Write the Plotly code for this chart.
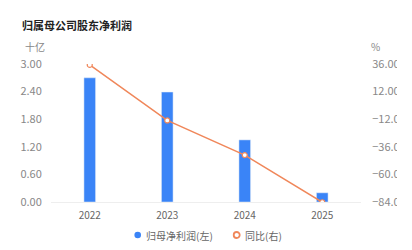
import plotly.graph_objects as go

years = ["2022", "2023", "2024", "2025"]
profit = [2.70, 2.39, 1.35, 0.20]
yoy = [35.2, -13.1, -43.2, -84.2]
left_ticks = [0, 0.6, 1.2, 1.8, 2.4, 3.0]
right_ticks = [-84, -60, -36, -12, 12, 36]
series_names = ["归母净利润(左)", "同比(右)"]

BLUE = "#3a84f7"
ORANGE = "#f0875a"
FONT = "Noto Sans CJK SC, Noto Sans, sans-serif"

W, H = 412, 250
ML, MR, MT, MB = 51, 51, 64, 48
pw = W - ML - MR
ph = H - MT - MB
def px(xp):
    return (xp - ML) / pw
def py(yp):
    return (H - MB - yp) / ph

fig = go.Figure()
fig.add_trace(go.Bar(
    x=years, y=profit, name=series_names[0], marker_color=BLUE,
    width=0.15, yaxis="y",
))
fig.add_trace(go.Scatter(
    x=years, y=yoy, name=series_names[1], mode="lines+markers", yaxis="y2",
    line=dict(color=ORANGE, width=1.5),
    marker=dict(symbol="circle", size=5, color="white", line=dict(color=ORANGE, width=1.2)),
))

# custom legend (symbol shapes + text annotations)
leg_y = py(235)
shapes = [
    dict(type="circle", xref="paper", yref="paper", xsizemode="pixel", ysizemode="pixel",
         xanchor=px(137.7), yanchor=leg_y, x0=-3.3, x1=3.3, y0=-3.3, y1=3.3,
         fillcolor=BLUE, line=dict(width=0), layer="above"),
    dict(type="circle", xref="paper", yref="paper", xsizemode="pixel", ysizemode="pixel",
         xanchor=px(236.7), yanchor=leg_y, x0=-3, x1=3, y0=-3, y1=3,
         fillcolor="white", line=dict(width=1.8, color=ORANGE), layer="above"),
    # right edge clip of the chart canvas
    dict(type="rect", xref="paper", yref="paper", x0=px(397), x1=px(412), y0=py(215),
         y1=py(55), fillcolor="white", line=dict(width=0), layer="above"),
]

fig.update_layout(
    width=W, height=H,
    margin=dict(l=ML, r=MR, t=MT, b=MB, autoexpand=False),
    paper_bgcolor="white", plot_bgcolor="white",
    font=dict(family=FONT, size=10, color="#777"),
    showlegend=False,
    shapes=shapes,
    xaxis=dict(type="category", showgrid=False, showline=True, linecolor="#eeeeee",
               linewidth=1, ticks="outside", ticklen=4, tickcolor="rgba(0,0,0,0)",
               tickfont=dict(size=10, color="#666")),
    yaxis=dict(range=[0, 3.0], tickvals=left_ticks, tickformat=".2f", showgrid=False,
               zeroline=False, ticks="outside", ticklen=6, tickcolor="rgba(0,0,0,0)",
               tickfont=dict(size=11, color="#888")),
    yaxis2=dict(range=[-84, 36], tickvals=right_ticks, tickformat=".2f", overlaying="y",
                side="right", showgrid=False, zeroline=False, ticks="outside", ticklen=8,
                tickcolor="rgba(0,0,0,0)", tickfont=dict(size=11, color="#888")),
    annotations=[
        dict(text="<b>归属母公司股东净利润</b>", xref="paper", yref="paper", x=px(20), y=py(25),
             xanchor="left", yanchor="middle", showarrow=False,
             font=dict(size=11, color="#222")),
        dict(text="十亿", xref="paper", yref="paper", x=px(23), y=py(47),
             xanchor="left", yanchor="middle", showarrow=False,
             font=dict(size=10, color="#888")),
        dict(text="%", xref="paper", yref="paper", x=px(369), y=py(46),
             xanchor="left", yanchor="middle", showarrow=False,
             font=dict(size=10, color="#888")),
        dict(text=series_names[0], xref="paper", yref="paper", x=px(144), y=leg_y,
             xanchor="left", yanchor="middle", showarrow=False,
             font=dict(size=10, color="#666")),
        dict(text=series_names[1], xref="paper", yref="paper", x=px(243), y=leg_y,
             xanchor="left", yanchor="middle", showarrow=False,
             font=dict(size=10, color="#666")),
    ],
)

fig.write_html("out.html")
